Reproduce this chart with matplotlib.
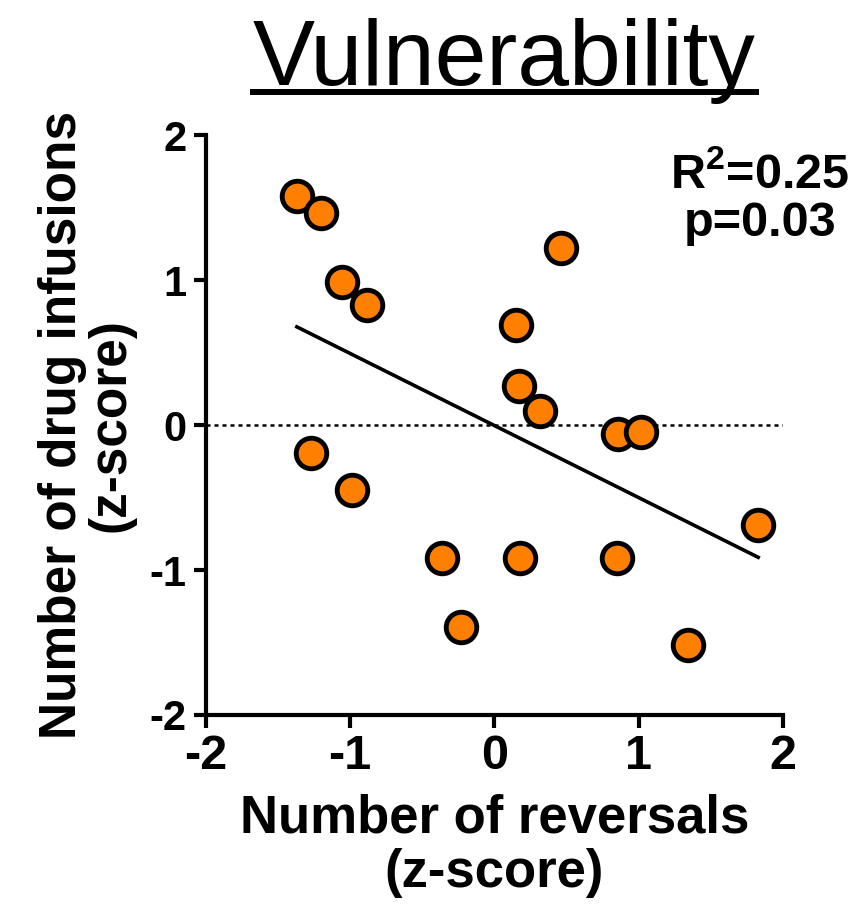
import numpy as np
import matplotlib
matplotlib.use('Agg')
import matplotlib.pyplot as plt
from matplotlib.lines import Line2D

# z-scored reversals (x) vs. z-scored drug infusions (y), one point per subject
reversals = [-1.37, -1.20, -1.06, -0.88, -1.27, -0.99, -0.36, -0.23, 0.15,
             0.17, 0.32, 0.46, 0.18, 0.86, 1.02, 0.85, 1.34, 1.83]
infusions = [1.58, 1.46, 0.99, 0.83, -0.19, -0.45, -0.92, -1.39, 0.69,
             0.27, 0.10, 1.22, -0.92, -0.06, -0.05, -0.92, -1.52, -0.69]
ticks = [-2, -1, 0, 1, 2]
stats_text = 'R$^\\mathbf{2}$=0.25\np=0.03'

plt.rcParams['font.family'] = ['Liberation Sans', 'DejaVu Sans']
plt.rcParams['axes.unicode_minus'] = False
plt.rcParams['mathtext.fontset'] = 'custom'
plt.rcParams['mathtext.bf'] = 'Liberation Sans:bold'

fig = plt.figure(figsize=(8.62, 9.19), dpi=100)
ax = fig.add_axes([0.239, 0.222, 0.669, 0.631])

x = np.array(reversals)
y = np.array(infusions)

# zero reference line
ax.axhline(0, color='black', lw=1.8, ls=(0, (1.6, 1.6)), zorder=1)

# linear fit over the data range
slope, intercept = np.polyfit(x, y, 1)
xf = np.array([x.min(), x.max()])
ax.plot(xf, slope * xf + intercept, color='black', lw=2.6, zorder=2)

ax.plot(x, y, 'o', ms=22, mfc='#ff8000', mec='black', mew=3.5, zorder=3)

ax.set_xlim(-2, 2)
ax.set_ylim(-2, 2)
ax.set_xticks(ticks)
ax.set_yticks(ticks)
for s in ['top', 'right']:
    ax.spines[s].set_visible(False)
for s in ['left', 'bottom']:
    ax.spines[s].set_linewidth(3)
ax.tick_params(width=3, length=9)
ax.tick_params(axis='y', labelsize=30, pad=5)
ax.tick_params(axis='x', labelsize=35, pad=5)
for lab in ax.get_xticklabels() + ax.get_yticklabels():
    lab.set_fontweight('bold')

ax.set_xlabel('Number of reversals\n(z-score)', fontsize=38, fontweight='bold',
              linespacing=1.12, labelpad=10)
ax.set_ylabel('Number of drug infusions\n(z-score)', fontsize=37, fontweight='bold',
              linespacing=1.0, labelpad=10)

ax.text(0.96, 0.97, stats_text, transform=ax.transAxes, ha='center', va='top',
        fontsize=35, fontweight='bold', linespacing=1.05)

title = fig.text(0.585, 0.908, 'Vulnerability', ha='center', va='baseline',
                 fontsize=67)

# underline just under the title baseline
fig.canvas.draw()
bb = title.get_window_extent().transformed(fig.transFigure.inverted())
uy = 0.9
fig.add_artist(Line2D([bb.x0, bb.x1], [uy, uy], color='black', lw=4.3,
                      transform=fig.transFigure))

fig.savefig('out.png', dpi=100)
